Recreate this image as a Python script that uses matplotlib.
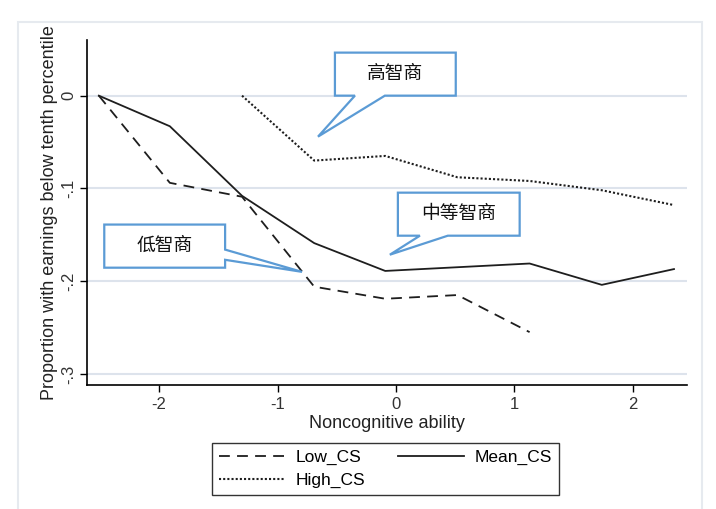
import matplotlib.pyplot as plt
from matplotlib.patches import Polygon, Rectangle

plt.rcParams['font.family'] = ['Liberation Sans', 'Noto Sans CJK SC', 'DejaVu Sans']
plt.rcParams['axes.unicode_minus'] = False

# Noncognitive ability grid points
x_vals = [-2.51, -1.91, -1.30, -0.69, -0.09, 0.52, 1.13, 1.74, 2.35]

# Proportion with earnings below tenth percentile (relative)
low_cs = [0.0, -0.094, -0.109, -0.206, -0.219, -0.215, -0.255]
mean_cs = [0.0, -0.033, -0.108, -0.159, -0.189, -0.185, -0.181, -0.204, -0.187]
high_cs = [0.0, -0.070, -0.065, -0.088, -0.092, -0.102, -0.118]

yticks = [0, -0.1, -0.2, -0.3]
ytick_labels = ['0', '-.1', '-.2', '-.3']
xticks = [-2, -1, 0, 1, 2]

fig = plt.figure(figsize=(7.16, 5.09), dpi=100)
# outer light panel border
fig.patches.append(Rectangle((18 / 716, -0.05), 684 / 716, 1 - 22 / 509 + 0.05,
                             transform=fig.transFigure, fill=False,
                             edgecolor='#e6eaef', linewidth=1.5))

ax = fig.add_axes([0.1215, 0.2436, 0.838, 0.6778])
line_col = '#1e1e1e'
l1, = ax.plot(x_vals[:7], low_cs, color=line_col, lw=1.3, linestyle=(0, (6, 4)), label='Low_CS')
l2, = ax.plot(x_vals, mean_cs, color=line_col, lw=1.3, label='Mean_CS')
l3, = ax.plot(x_vals[2:], high_cs, color=line_col, lw=1.5, linestyle=(0, (1, 1)), label='High_CS')

ax.set_xlim(-2.61, 2.46)
ax.set_ylim(-0.312, 0.060)
ax.set_yticks(yticks)
ax.set_yticklabels(ytick_labels, rotation=90, va='center')
ax.set_xticks(xticks)
ax.tick_params(axis='both', labelsize=12, length=5, width=1, colors='black', labelcolor='#333333')
ax.tick_params(axis='y', pad=3)
for y in yticks:
    ax.axhline(y, color='#dde3ec', lw=1.5, zorder=0)
for s in ['top', 'right']:
    ax.spines[s].set_visible(False)
ax.spines['left'].set_linewidth(1.2)
ax.spines['bottom'].set_linewidth(1.2)

ax.set_xlabel('Noncognitive ability', fontsize=13, color='#222222', labelpad=2)
ax.set_ylabel('Proportion with earnings below tenth percentile', fontsize=13, color='#222222', labelpad=2)

# callouts
blue = '#5b9bd5'
callouts = [
    ('高智商', [(-0.515, 0.0464), (0.506, 0.0464), (0.506, 0.0), (-0.093, 0.0),
              (-0.658, -0.0442), (-0.346, 0.0), (-0.515, 0.0)]),
    ('中等智商', [(0.017, -0.1046), (1.046, -0.1046), (1.046, -0.151), (0.439, -0.151),
               (-0.051, -0.1715), (0.203, -0.151), (0.017, -0.151)]),
    ('低智商', [(-2.464, -0.139), (-1.443, -0.139), (-1.443, -0.166), (-0.793, -0.190),
              (-1.443, -0.177), (-1.443, -0.1855), (-2.464, -0.1855)]),
]
for txt, pts in callouts:
    ax.add_patch(Polygon(pts, closed=True, facecolor='white', edgecolor=blue,
                         lw=1.6, zorder=5, clip_on=False))
    xs = [p[0] for p in pts[:3]]
    cx = (min(xs) + max(xs)) / 2
    cy = (pts[0][1] + pts[2][1]) / 2 if txt != '低智商' else (pts[0][1] + pts[-1][1]) / 2
    ax.text(cx, cy, txt, ha='center', va='center', fontsize=13.5, color='#111111', zorder=6)

leg = fig.legend([l1, l3, l2], ['Low_CS', 'High_CS', 'Mean_CS'], ncol=2,
                 loc='center', bbox_to_anchor=(0.538, 0.0786), fontsize=12.5,
                 frameon=True, fancybox=False, edgecolor='black', handlelength=3.8,
                 columnspacing=1.9, borderpad=0.4, labelspacing=0.45, handletextpad=0.6)
leg.get_frame().set_linewidth(1.0)

fig.savefig('out.png', dpi=100)
